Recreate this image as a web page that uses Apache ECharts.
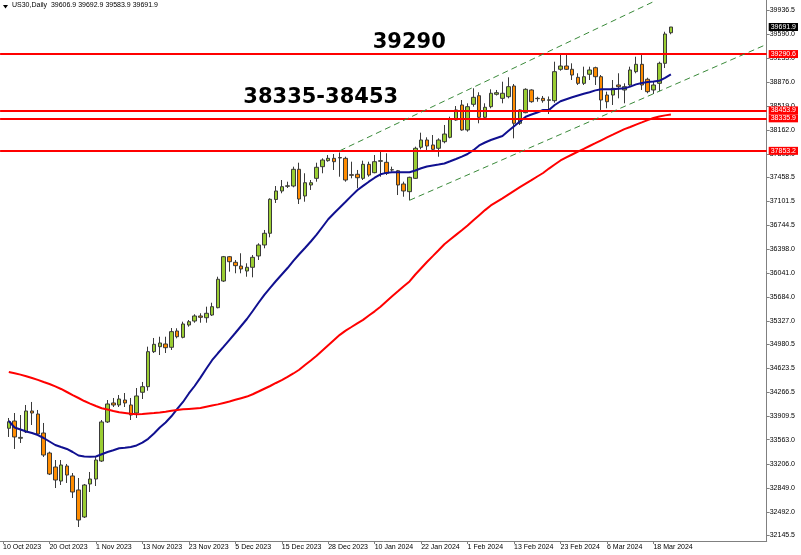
<!DOCTYPE html>
<html>
<head>
<meta charset="utf-8">
<script src="https://cdn.jsdelivr.net/npm/echarts@6/dist/echarts.min.js"></script>
<style>
html,body{margin:0;padding:0;background:#fff;}
#chart{width:801px;height:555px;}
</style>
</head>
<body>
<div id="chart"></div>
<script>
const dates = ['10 Oct 2023','11 Oct 2023','12 Oct 2023','13 Oct 2023','16 Oct 2023','17 Oct 2023','18 Oct 2023','19 Oct 2023',
'20 Oct 2023','23 Oct 2023','24 Oct 2023','25 Oct 2023','26 Oct 2023','27 Oct 2023','30 Oct 2023','31 Oct 2023',
'1 Nov 2023','2 Nov 2023','3 Nov 2023','6 Nov 2023','7 Nov 2023','8 Nov 2023','9 Nov 2023','10 Nov 2023',
'13 Nov 2023','14 Nov 2023','15 Nov 2023','16 Nov 2023','17 Nov 2023','20 Nov 2023','21 Nov 2023','22 Nov 2023',
'23 Nov 2023','24 Nov 2023','27 Nov 2023','28 Nov 2023','29 Nov 2023','30 Nov 2023','1 Dec 2023','4 Dec 2023',
'5 Dec 2023','6 Dec 2023','7 Dec 2023','8 Dec 2023','11 Dec 2023','12 Dec 2023','13 Dec 2023','14 Dec 2023',
'15 Dec 2023','18 Dec 2023','19 Dec 2023','20 Dec 2023','21 Dec 2023','22 Dec 2023','26 Dec 2023','27 Dec 2023',
'28 Dec 2023','29 Dec 2023','2 Jan 2024','3 Jan 2024','4 Jan 2024','5 Jan 2024','8 Jan 2024','9 Jan 2024',
'10 Jan 2024','11 Jan 2024','12 Jan 2024','15 Jan 2024','16 Jan 2024','17 Jan 2024','18 Jan 2024','19 Jan 2024',
'22 Jan 2024','23 Jan 2024','24 Jan 2024','25 Jan 2024','26 Jan 2024','29 Jan 2024','30 Jan 2024','31 Jan 2024',
'1 Feb 2024','2 Feb 2024','5 Feb 2024','6 Feb 2024','7 Feb 2024','8 Feb 2024','9 Feb 2024','12 Feb 2024',
'13 Feb 2024','14 Feb 2024','15 Feb 2024','16 Feb 2024','19 Feb 2024','20 Feb 2024','21 Feb 2024','22 Feb 2024',
'23 Feb 2024','26 Feb 2024','27 Feb 2024','28 Feb 2024','29 Feb 2024','1 Mar 2024','4 Mar 2024','5 Mar 2024',
'6 Mar 2024','7 Mar 2024','8 Mar 2024','11 Mar 2024','12 Mar 2024','13 Mar 2024','14 Mar 2024','15 Mar 2024',
'18 Mar 2024','19 Mar 2024','20 Mar 2024','21 Mar 2024'];

const opens = [null,
33733,33841,33585,33678,33990,33945,33663,33366,33158,32950,
33173,33025,32817,32416,32906,32980,33247,33827,34109,34079,
34153,34079,33960,34268,34351,34871,34945,34985,34936,35178,
35084,35267,35326,35401,35375,35415,35524,35920,36281,36198,
36143,36069,36124,36292,36455,36629,37131,37257,37327,37331,
37579,37183,37346,37445,37618,37707,37742,37754,37742,37499,
37505,37445,37653,37529,37698,37683,37569,37558,37361,37247,
37445,37906,38014,37940,37891,37989,38054,38311,38534,38163,
38544,38672,38351,38509,38693,38633,38657,38816,38262,38420,
38757,38628,38633,38604,38598,39064,39113,39064,38945,38856,
38990,39088,38954,38682,38682,38831,38757,38831,39029,39138,
38916,38757,38856,39153,39606.9];
const closes = [null,
33831,33604,33598,33990,33960,33648,33336,33054,32965,33188,
33039,32787,32371,32891,32980,33262,33827,34094,34079,34168,
34109,33930,34213,34351,34871,34980,35000,34930,35168,35093,
35282,35316,35401,35381,35441,35539,35946,36281,36207,36148,
36099,36124,36272,36455,36629,37134,37257,37321,37334,37579,
37138,37380,37380,37609,37717,37742,37692,37747,37420,37490,
37454,37653,37494,37692,37707,37520,37573,37346,37257,37460,
37891,38014,37925,37876,38014,38103,38322,38460,38163,38509,
38648,38351,38500,38708,38717,38708,38806,38262,38460,38767,
38583,38633,38598,38611,39029,39113,39064,38979,38856,38954,
39054,38954,38608,38583,38782,38806,38806,39054,39138,38831,
38732,38831,39153,39588,39691.9];
const lows = [null,
33604,33426,33515,33663,33782,33633,33307,33039,32846,32891,
32921,32698,32267,32401,32787,32876,33233,33812,34049,34049,
34049,33856,33886,34168,34291,34851,34821,34851,34896,35069,
35069,35242,35301,35301,35301,35401,35515,35906,36059,36035,
36035,35984,35975,36232,36406,36569,37079,37223,37301,37312,
37064,37098,37272,37395,37520,37692,37569,37469,37395,37445,
37297,37420,37469,37520,37469,37494,37544,37197,37172,37119,
37435,37876,37866,37841,37766,37965,38039,38301,38152,38138,
38509,38262,38336,38485,38675,38559,38633,38039,38237,38411,
38568,38583,38568,38400,38568,39043,39054,38905,38831,38831,
38905,38831,38460,38485,38534,38633,38559,38816,39005,38757,
38708,38697,38740,39083,39583.9];
const highs = [null,
33886,33960,33930,34079,34124,34005,33812,33386,33262,33262,
33203,33069,32995,32906,33084,33307,33856,34153,34183,34227,
34257,34183,34331,34421,34945,35074,35093,35093,35222,35218,
35316,35341,35426,35441,35539,35598,35984,36292,36292,36232,
36332,36183,36306,36480,36678,37148,37331,37420,37395,37618,
37677,37520,37420,37677,37742,37791,37806,37829,37766,37692,
37569,37707,37692,37791,37841,37817,37618,37569,37395,37469,
37915,38123,38054,38088,38039,38237,38360,38519,38608,38559,
38782,38723,38559,38767,38757,38880,38945,38846,38470,38782,
38767,38657,38668,38660,39177,39287,39276,39153,39005,39103,
39103,39103,38979,38732,38905,39005,38856,39103,39251,39276,
38939,38880,39177,39622,39692.9];

// moving averages
const maFast = [null,
33841,33745,33715,33685,33663,33633,33589,33537,33485,33455,
33426,33381,33329,33314,33311,33314,33348,33381,33408,33436,
33445,33455,33478,33519,33577,33656,33745,33819,33911,34020,
34124,34250,34361,34486,34617,34744,34847,34946,35047,35148,
35252,35356,35475,35597,35715,35819,35920,36017,36113,36220,
36317,36410,36507,36608,36722,36837,36927,37013,37098,37184,
37269,37333,37395,37454,37505,37526,37535,37535,37535,37535,
37561,37594,37621,37636,37650,37665,37698,37732,37768,37806,
37863,37933,37977,38014,38044,38074,38148,38218,38289,38360,
38393,38423,38460,38460,38534,38590,38620,38648,38674,38700,
38724,38751,38767,38767,38767,38775,38781,38807,38840,38862,
38877,38884,38893,38938,38990];
const maSlow = [null,
34569,34550,34530,34507,34480,34452,34421,34391,34355,34317,
34272,34227,34183,34138,34100,34064,34031,34011,33990,33970,
33960,33950,33942,33945,33953,33959,33969,33980,33993,34005,
34015,34021,34027,34033,34052,34070,34088,34110,34132,34156,
34180,34204,34239,34279,34320,34361,34406,34447,34495,34547,
34602,34673,34740,34810,34888,34966,35044,35121,35184,35237,
35291,35343,35407,35470,35539,35616,35693,35767,35843,35914,
36017,36110,36203,36290,36378,36467,36537,36605,36673,36745,
36822,36898,36973,37042,37095,37148,37203,37258,37313,37365,
37417,37472,37524,37590,37650,37710,37757,37799,37841,37882,
37925,37967,38010,38053,38094,38136,38176,38207,38243,38276,
38310,38341,38363,38380,38394];

const yTicks = [39936.5,39590.0,39233.0,38876.0,38519.0,38162.0,37805.0,37458.5,37101.5,36744.5,36398.0,36041.0,
35684.0,35327.0,34980.5,34623.5,34266.5,33909.5,33563.0,33206.0,32849.0,32492.0,32145.5];
const levels = [39290.6, 38453.9, 38335.9, 37853.2];
const lastPrice = 39691.9;
const channelUpper = [[58, 37855], [112, 40068]];
const channelLower = [[70, 37119], [131, 39416]];
const headerText = 'US30,Daily  39606.9 39692.9 39583.9 39691.9';
const noteTop = '39290';
const noteZone = '38335-38453';

const FUTURE_BARS = 16;
const cats = dates.concat(new Array(FUTURE_BARS).fill(''));
const candleData = cats.map((d, i) => (i < opens.length && opens[i] != null) ? [opens[i], closes[i], lows[i], highs[i]] : '-');
const pad = arr => cats.map((d, i) => (i < arr.length && arr[i] != null) ? arr[i] : '-');
const showLabel = (i) => i % 8 === 0 && i <= 112;

const FONT = 'Liberation Sans';
const dashStyle = { color: '#3a8a3a', width: 1, type: [6, 4] };
const chart = echarts.init(document.getElementById('chart'));
chart.setOption({
  animation: false,
  backgroundColor: '#ffffff',
  grid: { left: -2, right: 34.3, top: 0, bottom: 14 },
  xAxis: {
    type: 'category',
    data: cats,
    boundaryGap: true,
    axisLine: { show: true, lineStyle: { color: '#808080', width: 1 } },
    axisTick: { show: true, interval: (i) => showLabel(i), alignWithLabel: true, length: 3, lineStyle: { color: '#808080' } },
    axisLabel: { interval: (i) => showLabel(i), align: 'left', fontFamily: FONT, fontSize: 7, color: '#000', margin: 3 },
    splitLine: { show: false }
  },
  yAxis: {
    type: 'value',
    position: 'right',
    min: 32059.3,
    max: 40093.2,
    axisLine: { show: true, lineStyle: { color: '#808080', width: 1 } },
    axisTick: { show: true, customValues: yTicks, length: 3, lineStyle: { color: '#808080' } },
    axisLabel: { customValues: yTicks, formatter: (v) => Number(v).toFixed(1), fontFamily: FONT, fontSize: 7, color: '#000', margin: 3 },
    splitLine: { show: false }
  },
  graphic: [
    { type: 'polygon', shape: { points: [[3, 5], [8, 5], [5.5, 8.5]] }, style: { fill: '#000' } },
    { type: 'text', left: 12, top: 2, style: { text: headerText, font: '7px "Liberation Sans"', fill: '#000' } },
    { type: 'text', x: 372.7, y: 43, style: { text: noteTop, font: 'bold 21px "DejaVu Sans"', fill: '#000', verticalAlign: 'middle' } },
    { type: 'text', x: 243.3, y: 97.5, style: { text: noteZone, font: 'bold 21px "DejaVu Sans"', fill: '#000', verticalAlign: 'middle' } }
  ],
  series: [
    {
      type: 'candlestick',
      data: candleData,
      barWidth: 4,
      itemStyle: {
        color: '#9acd32', color0: '#ff8c00',
        borderColor: '#3a3a3a', borderColor0: '#3a3a3a', borderWidth: 1
      },
      markLine: {
        silent: true,
        symbol: ['none', 'none'],
        animation: false,
        data: levels.map(v => ({
          yAxis: v,
          lineStyle: { color: '#ff0000', width: 2, type: 'solid' },
          label: { show: true, position: 'end', distance: 2, formatter: v.toFixed(1), color: '#fff', backgroundColor: '#ff0000',
                   fontFamily: FONT, fontSize: 7, padding: [1, 2, 0, 2] }
        })).concat([
          {
            yAxis: lastPrice,
            lineStyle: { color: 'rgba(0,0,0,0)', width: 0 },
            label: { show: true, position: 'end', distance: 2, formatter: lastPrice.toFixed(1), color: '#fff', backgroundColor: '#000',
                     fontFamily: FONT, fontSize: 7, padding: [1, 2, 0, 2] }
          },
          [ { coord: channelUpper[0], lineStyle: dashStyle, label: { show: false } },
            { coord: channelUpper[1], lineStyle: dashStyle, label: { show: false } } ],
          [ { coord: channelLower[0], lineStyle: dashStyle, label: { show: false } },
            { coord: channelLower[1], lineStyle: dashStyle, label: { show: false } } ]
        ])
      }
    },
    {
      type: 'line', data: pad(maFast), showSymbol: false, symbol: 'none', connectNulls: false,
      lineStyle: { color: '#101090', width: 2 }, z: 4, silent: true
    },
    {
      type: 'line', data: pad(maSlow), showSymbol: false, symbol: 'none',
      lineStyle: { color: '#ff0000', width: 2 }, z: 4, silent: true
    }
  ]
});
</script>
</body>
</html>
